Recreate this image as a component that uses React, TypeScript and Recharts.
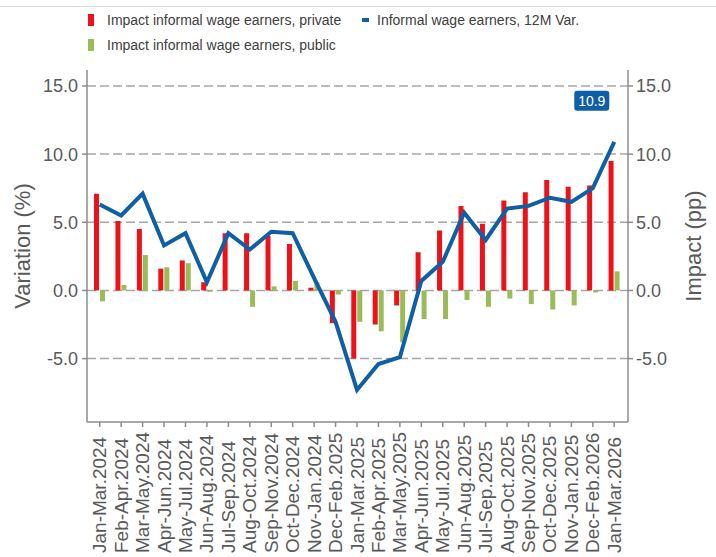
import React from "react"
import {
  ComposedChart,
  Bar,
  Line,
  XAxis,
  YAxis,
  CartesianGrid,
  LabelList,
} from "recharts"

const categories = [
  "Jan-Mar.2024", "Feb-Apr.2024", "Mar-May.2024", "Apr-Jun.2024", "May-Jul.2024",
  "Jun-Aug.2024", "Jul-Sep.2024", "Aug-Oct.2024", "Sep-Nov.2024", "Oct-Dec.2024",
  "Nov-Jan.2024", "Dec-Feb.2025", "Jan-Mar.2025", "Feb-Apr.2025", "Mar-May.2025",
  "Apr-Jun.2025", "May-Jul.2025", "Jun-Aug.2025", "Jul-Sep.2025", "Aug-Oct.2025",
  "Sep-Nov.2025", "Oct-Dec.2025", "Nov-Jan.2025", "Dec-Feb.2026", "Jan-Mar.2026",
]

// impact in pp (right axis)
const privateImpact = [
  7.1, 5.1, 4.5, 1.6, 2.2, 0.6, 4.2, 4.2, 4.0, 3.4, 0.2, -2.4, -5.0,
  -2.5, -1.1, 2.8, 4.4, 6.2, 4.9, 6.6, 7.2, 8.1, 7.6, 7.7, 9.5,
]
const publicImpact = [
  -0.8, 0.4, 2.6, 1.7, 2.0, -0.1, 0.0, -1.2, 0.3, 0.7, 0.6, -0.3, -2.3,
  -3.0, -3.8, -2.1, -2.1, -0.7, -1.2, -0.6, -1.0, -1.4, -1.1, -0.15, 1.4,
]
// 12M variation in % (left axis)
const wageEarnersVar = [
  6.3, 5.5, 7.1, 3.3, 4.2, 0.6, 4.2, 3.0, 4.3, 4.2, 0.9, -2.3, -7.3,
  -5.4, -4.9, 0.7, 2.1, 5.7, 3.7, 6.0, 6.2, 6.8, 6.5, 7.5, 10.9,
]

const yTicks = [-5, 0, 5, 10, 15]
const yDomain = [-9.65, 16.17]

const RED = "#ee1117"
const GREEN = "#9bbb59"
const BLUE = "#0f5fa6"
const TEXT = "#595959"
const AXIS = "#8c8c8c"
const FONT = "'Liberation Sans', Arial, sans-serif"

const data = categories.map((name, i) => ({
  name,
  priv: privateImpact[i],
  pub: publicImpact[i],
  variation: wageEarnersVar[i],
}))

const lastIndex = categories.length - 1

function XTick(props: any) {
  const { x, y, payload } = props
  const by = y + 124
  return (
    <text
      x={x}
      y={by}
      transform={`rotate(-90, ${x}, ${by})`}
      textAnchor="start"
      dominantBaseline="central"
      fill={TEXT}
      fontSize={19}
      fontFamily={FONT}
    >
      {payload.value}
    </text>
  )
}

function LastLabel(props: any) {
  const { x, y, index, value } = props
  if (index !== lastIndex && value !== wageEarnersVar[lastIndex]) return null
  const cx = x - 22.5
  const cy = y - 41
  return (
    <g>
      <rect x={cx - 17.5} y={cy - 10} width={35} height={20} rx={3} fill={BLUE} />
      <text
        x={cx}
        y={cy}
        textAnchor="middle"
        dominantBaseline="central"
        fill="#ffffff"
        fontSize={14}
        fontFamily={FONT}
      >
        {Number(value).toFixed(1)}
      </text>
    </g>
  )
}

function AxisTitle(props: any) {
  const { viewBox, value, cx } = props
  const cy = viewBox.y + viewBox.height / 2
  return (
    <text
      x={cx}
      y={cy}
      transform={`rotate(-90, ${cx}, ${cy})`}
      textAnchor="middle"
      dominantBaseline="central"
      fill={TEXT}
      fontSize={22}
      fontFamily={FONT}
    >
      {value}
    </text>
  )
}

const legendText: React.CSSProperties = {
  position: "absolute",
  fontSize: 14,
  color: "#404040",
  fontFamily: FONT,
  lineHeight: "16px",
  whiteSpace: "nowrap",
}

export default function App() {
  return (
    <div style={{ position: "absolute", top: 0, left: 0, width: 716, height: 557, background: "#fff" }}>
      <div style={{ position: "absolute", top: 6, left: 0, width: 716, height: 1, background: "#d9d9d9" }} />

      {/* legend */}
      <div style={{ position: "absolute", left: 88, top: 14, width: 6, height: 12, background: RED }} />
      <div style={{ ...legendText, left: 107, top: 12 }}>Impact informal wage earners, private</div>
      <div style={{ position: "absolute", left: 362, top: 18, width: 7, height: 4, background: BLUE }} />
      <div style={{ ...legendText, left: 377, top: 12 }}>Informal wage earners, 12M Var.</div>
      <div style={{ position: "absolute", left: 88, top: 39, width: 6, height: 12, background: GREEN }} />
      <div style={{ ...legendText, left: 107, top: 37 }}>Impact informal wage earners, public</div>

      <div style={{ position: "absolute", top: 0, left: 0 }}>
        <ComposedChart
          width={716}
          height={557}
          data={data}
          margin={{ top: 70, right: 0, bottom: 0, left: 0 }}
          barSize={5}
          barGap={1}
        >
          <CartesianGrid
            yAxisId="left"
            vertical={false}
            syncWithTicks
            stroke="#a6a6a6"
            strokeWidth={1.5}
            strokeDasharray="9 4"
          />
          <XAxis
            dataKey="name"
            interval={0}
            height={135}
            padding={{ left: 2, right: 3 }}
            axisLine={{ stroke: AXIS, strokeWidth: 1.5 }}
            tickLine={{ stroke: AXIS, strokeWidth: 1.5 }}
            tickSize={5}
            tick={<XTick />}
          />
          <YAxis
            yAxisId="left"
            width={87}
            domain={yDomain}
            ticks={yTicks}
            allowDataOverflow
            tickFormatter={(v: number) => v.toFixed(1)}
            tick={{ fill: TEXT, fontSize: 18, fontFamily: FONT }}
            axisLine={{ stroke: AXIS, strokeWidth: 1.5 }}
            tickLine={{ stroke: AXIS, strokeWidth: 1.5 }}
            tickSize={5}
            tickMargin={4}
            label={<AxisTitle value="Variation (%)" cx={22} />}
          />
          <YAxis
            yAxisId="right"
            orientation="right"
            width={88}
            domain={yDomain}
            ticks={yTicks}
            allowDataOverflow
            tickFormatter={(v: number) => v.toFixed(1)}
            tick={{ fill: TEXT, fontSize: 18, fontFamily: FONT }}
            axisLine={{ stroke: AXIS, strokeWidth: 1.5 }}
            tickLine={{ stroke: AXIS, strokeWidth: 1.5 }}
            tickSize={5}
            tickMargin={3}
            label={<AxisTitle value="Impact (pp)" cx={693} />}
          />
          <Bar yAxisId="right" dataKey="priv" fill={RED} isAnimationActive={false} />
          <Bar yAxisId="right" dataKey="pub" fill={GREEN} isAnimationActive={false} />
          <Line
            yAxisId="left"
            dataKey="variation"
            stroke={BLUE}
            strokeWidth={4}
            dot={false}
            activeDot={false}
            isAnimationActive={false}
          >
            <LabelList dataKey="variation" content={<LastLabel />} />
          </Line>
        </ComposedChart>
      </div>
    </div>
  )
}
